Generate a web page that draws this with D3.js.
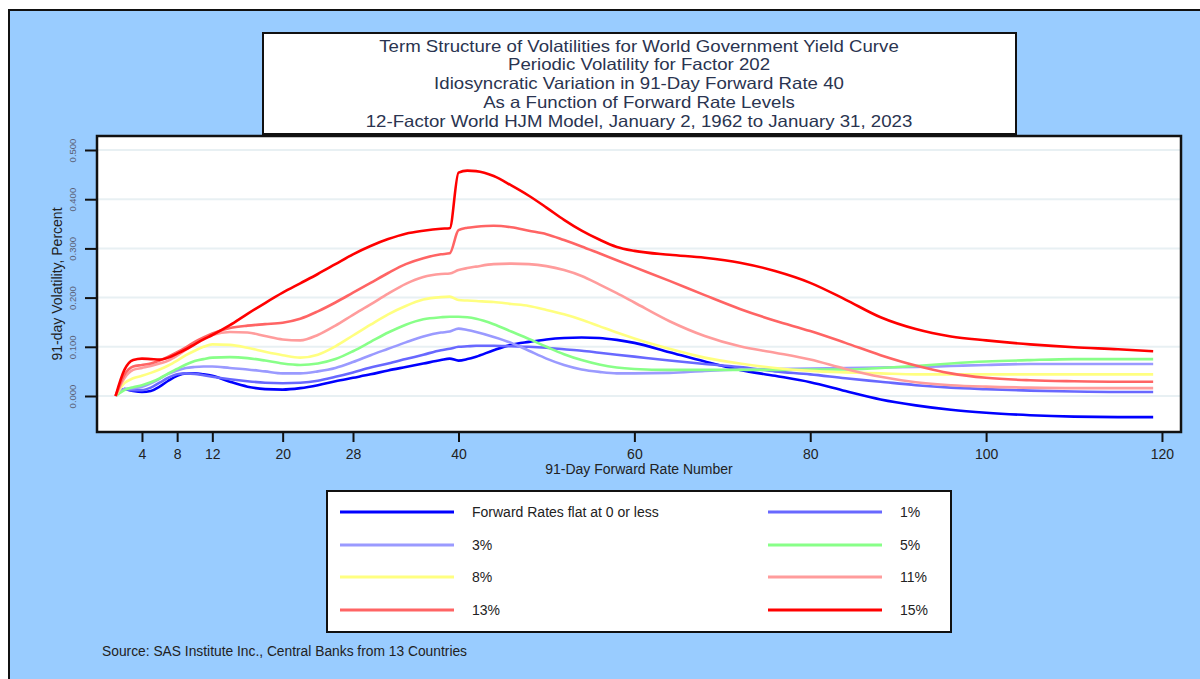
<!DOCTYPE html>
<html><head><meta charset="utf-8">
<script src="https://cdn.jsdelivr.net/npm/d3@7"></script>
<style>html,body{margin:0;padding:0;background:#fff;}svg{display:block;font-family:"Liberation Sans",Arial,sans-serif;}</style>
</head><body>
<svg id="chart" width="1200" height="679"></svg>
<script>
const titleLines = [
  "Term Structure of Volatilities for World Government Yield Curve",
  "Periodic Volatility for Factor 202",
  "Idiosyncratic Variation in 91-Day Forward Rate 40",
  "As a Function of Forward Rate Levels",
  "12-Factor World HJM Model, January 2, 1962 to January 31, 2023"
];
const xTicks = [4, 8, 12, 20, 28, 40, 60, 80, 100, 120];
const yTicks = [0, 0.1, 0.2, 0.3, 0.4, 0.5];
const forwardRate = [1,2,3,4,5,6,7,8,9,10,11,12,14,16,18,20,22,24,26,28,30,32,34,36,38,39,40,41,42,44,46,48,50,52,54,56,58,60,64,68,72,76,80,84,88,92,96,100,105,110,115,119];
const seriesNames = ["Forward Rates flat at 0 or less","1%","3%","5%","8%","11%","13%","15%"];
const seriesColors = ["#0000ff","#6868ff","#9a9aff","#88ff88","#ffff80","#ff9c9c","#ff6464","#ff0000"];
const volFlat = [0,0.014,0.010,0.008,0.010,0.019,0.031,0.041,0.046,0.046,0.044,0.041,0.029,0.019,0.014,0.013,0.016,0.022,0.030,0.037,0.044,0.052,0.059,0.066,0.073,0.076,0.072,0.075,0.080,0.093,0.104,0.110,0.115,0.118,0.119,0.118,0.114,0.108,0.089,0.070,0.053,0.041,0.028,0.010,-0.007,-0.019,-0.028,-0.034,-0.039,-0.042,-0.043,-0.043];
const vol1 = [0,0.014,0.012,0.012,0.017,0.027,0.037,0.044,0.046,0.045,0.042,0.039,0.034,0.030,0.027,0.026,0.027,0.031,0.039,0.048,0.058,0.066,0.075,0.084,0.093,0.096,0.100,0.101,0.102,0.102,0.101,0.100,0.098,0.095,0.092,0.088,0.084,0.080,0.072,0.065,0.059,0.050,0.044,0.036,0.029,0.022,0.017,0.014,0.011,0.009,0.008,0.008];
const vol3 = [0,0.014,0.016,0.019,0.026,0.035,0.045,0.052,0.057,0.059,0.060,0.060,0.057,0.054,0.050,0.046,0.046,0.050,0.057,0.069,0.083,0.096,0.109,0.121,0.129,0.131,0.137,0.134,0.130,0.120,0.108,0.092,0.076,0.063,0.054,0.049,0.046,0.046,0.047,0.051,0.054,0.055,0.056,0.057,0.058,0.059,0.061,0.063,0.065,0.065,0.065,0.065];
const vol5 = [0,0.012,0.018,0.022,0.028,0.036,0.046,0.055,0.064,0.071,0.075,0.078,0.079,0.077,0.072,0.066,0.063,0.066,0.075,0.091,0.110,0.129,0.145,0.156,0.160,0.161,0.161,0.160,0.157,0.146,0.131,0.116,0.100,0.085,0.073,0.064,0.058,0.055,0.053,0.053,0.053,0.053,0.054,0.054,0.057,0.061,0.066,0.070,0.073,0.075,0.075,0.075];
const vol8 = [0,0.026,0.036,0.041,0.047,0.054,0.062,0.072,0.083,0.092,0.100,0.105,0.104,0.098,0.090,0.083,0.078,0.084,0.101,0.123,0.145,0.166,0.183,0.196,0.201,0.202,0.195,0.194,0.193,0.191,0.187,0.183,0.175,0.166,0.155,0.142,0.129,0.117,0.096,0.078,0.066,0.057,0.051,0.048,0.046,0.044,0.044,0.044,0.044,0.044,0.044,0.044];
const vol11 = [0,0.036,0.053,0.057,0.061,0.066,0.072,0.082,0.094,0.106,0.117,0.124,0.130,0.129,0.122,0.115,0.113,0.124,0.143,0.165,0.186,0.208,0.228,0.242,0.248,0.249,0.256,0.260,0.263,0.268,0.269,0.268,0.264,0.256,0.244,0.227,0.209,0.190,0.152,0.122,0.101,0.088,0.074,0.055,0.039,0.028,0.022,0.019,0.017,0.016,0.016,0.016];
const vol13 = [0,0.043,0.060,0.063,0.066,0.072,0.080,0.089,0.099,0.110,0.119,0.127,0.138,0.143,0.146,0.149,0.157,0.172,0.190,0.210,0.230,0.250,0.268,0.280,0.288,0.290,0.337,0.342,0.344,0.346,0.343,0.336,0.329,0.317,0.304,0.290,0.276,0.262,0.234,0.205,0.177,0.153,0.132,0.108,0.083,0.062,0.046,0.037,0.032,0.030,0.029,0.029];
const vol15 = [0,0.053,0.073,0.076,0.075,0.074,0.078,0.086,0.095,0.105,0.115,0.124,0.144,0.167,0.189,0.210,0.229,0.248,0.268,0.288,0.305,0.319,0.330,0.336,0.340,0.341,0.454,0.458,0.457,0.447,0.428,0.407,0.383,0.358,0.336,0.318,0.303,0.295,0.287,0.281,0.271,0.254,0.230,0.196,0.160,0.136,0.121,0.113,0.105,0.099,0.095,0.091];
const seriesValues = [volFlat, vol1, vol3, vol5, vol8, vol11, vol13, vol15];

const svg = d3.select("#chart");
const W = 1200, H = 679;

// outer background
svg.append("rect").attr("x",0).attr("y",0).attr("width",W).attr("height",H).attr("fill","#fff");
svg.append("rect").attr("x",9).attr("y",10).attr("width",W+10).attr("height",H+10)
  .attr("fill","#99ccff").attr("stroke","#111").attr("stroke-width",2);

// plot area
const plot = {l:97, r:1181, t:136, b:432};
const x = d3.scaleLinear().domain([0,120]).range([106.8, 106.8 + 8.793*120]);
const y = d3.scaleLinear().domain([0,0.5]).range([396,150]);

svg.append("rect").attr("x",plot.l).attr("y",plot.t).attr("width",plot.r-plot.l).attr("height",plot.b-plot.t)
  .attr("fill","#fff");

// grid
svg.append("g").selectAll("line").data(yTicks).join("line")
  .attr("x1",plot.l).attr("x2",plot.r).attr("y1",d=>y(d)).attr("y2",d=>y(d))
  .attr("stroke","#e8f0f3").attr("stroke-width",2);

// lines
const line = d3.line().x((d,i)=>x(forwardRate[i])).y(d=>y(d)).curve(d3.curveMonotoneX);
const clipId = "plotclip";
svg.append("clipPath").attr("id",clipId).append("rect")
  .attr("x",plot.l).attr("y",plot.t).attr("width",plot.r-plot.l).attr("height",plot.b-plot.t);
const gLines = svg.append("g").attr("clip-path",`url(#${clipId})`);
seriesValues.forEach((vals,k)=>{
  gLines.append("path").datum(vals).attr("d",line)
    .attr("fill","none").attr("stroke",seriesColors[k]).attr("stroke-width",2.6)
    .attr("stroke-linejoin","round");
});

// frame
svg.append("rect").attr("x",plot.l).attr("y",plot.t).attr("width",plot.r-plot.l).attr("height",plot.b-plot.t)
  .attr("fill","none").attr("stroke","#111").attr("stroke-width",2.5);

// x axis
const xAxis = d3.axisBottom(x).tickValues(xTicks).tickSize(10).tickPadding(5).tickSizeOuter(0);
const gx = svg.append("g").attr("transform",`translate(0,${plot.b})`).call(xAxis);
gx.select(".domain").remove();
gx.selectAll(".tick line").attr("stroke","#111").attr("stroke-width",2);
gx.selectAll(".tick text").attr("font-size",14).attr("fill","#222").attr("font-family","Liberation Sans, Arial, sans-serif")
  .attr("y",27).attr("dy",0);

// y axis
const yAxis = d3.axisLeft(y).tickValues(yTicks).tickSize(12).tickPadding(4).tickFormat(d3.format(".3f"));
const gy = svg.append("g").attr("transform",`translate(${plot.l},0)`).call(yAxis);
gy.select(".domain").remove();
gy.selectAll(".tick line").attr("stroke","#111").attr("stroke-width",2);
gy.selectAll(".tick text").attr("font-size",9.5).attr("fill","#5a6075").attr("font-family","Liberation Sans, Arial, sans-serif")
  .attr("text-anchor","middle").attr("x",0).attr("dy","0.35em")
  .attr("transform","translate(-24,0) rotate(-90)");

// axis titles
svg.append("text").attr("x",639).attr("y",474).attr("text-anchor","middle").attr("font-size",14).attr("fill","#222")
  .text("91-Day Forward Rate Number");
svg.append("text").attr("transform","translate(62,284) rotate(-90)").attr("text-anchor","middle").attr("font-size",14).attr("fill","#222")
  .text("91-day Volatility, Percent");

// title box
svg.append("rect").attr("x",263).attr("y",33).attr("width",753).attr("height",101)
  .attr("fill","#fff").attr("stroke","#111").attr("stroke-width",2);
svg.append("g").selectAll("text").data(titleLines).join("text")
  .attr("transform",(d,i)=>`translate(639,${51.5 + i*18.9}) scale(1.13,1)`).attr("text-anchor","middle")
  .attr("font-size",16.5).attr("fill","#2a3450").text(d=>d);

// legend
svg.append("rect").attr("x",327).attr("y",491).attr("width",624).attr("height",141)
  .attr("fill","#fff").attr("stroke","#111").attr("stroke-width",2);
const legRowsY = [512, 545, 577, 610];
const legG = svg.append("g");
seriesNames.forEach((name,k)=>{
  const col = k % 2, row = Math.floor(k/2);
  const lx = col === 0 ? 340 : 768;
  const ly = legRowsY[row];
  legG.append("line").attr("x1",lx).attr("x2",lx+114).attr("y1",ly).attr("y2",ly)
    .attr("stroke",seriesColors[k]).attr("stroke-width",3);
  legG.append("text").attr("x",lx+132).attr("y",ly).attr("dy","0.35em")
    .attr("font-size",14).attr("fill","#222").text(name);
});

// source
svg.append("text").attr("x",102).attr("y",656).attr("font-size",13.8).attr("fill","#222")
  .text("Source: SAS Institute Inc., Central Banks from 13 Countries");
</script>
</body></html>
